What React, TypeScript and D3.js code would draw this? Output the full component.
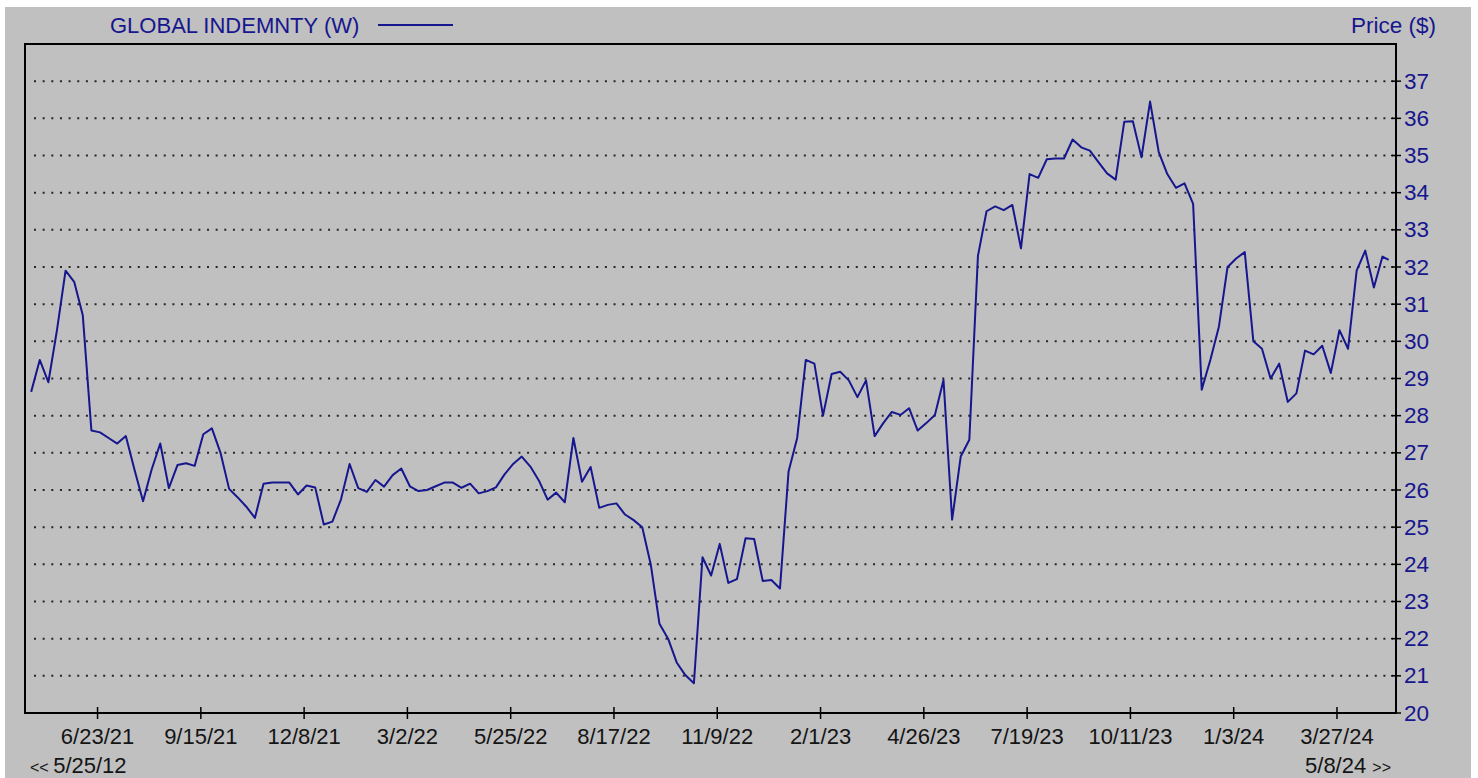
import React, { useEffect, useRef } from 'react';
import * as d3 from 'd3';

// weekly closes (Fridays) from firstWeek, last value is the latest day
const seriesName = 'GLOBAL INDEMNTY (W)';
const axisTitle = 'Price ($)';
const firstWeek = '4/30/21';
const lastDay = '5/8/24';
const historyStart = '5/25/12';

const prices = [
  28.64, 29.5, 28.9, 30.3, 31.9, 31.6, 30.7, 27.6, 27.55, 27.4,
  27.25, 27.45, 26.55, 25.7, 26.55, 27.25, 26.05, 26.67, 26.72, 26.65,
  27.5, 27.66, 27.0, 26.03, 25.8, 25.55, 25.25, 26.17, 26.2, 26.2,
  26.2, 25.88, 26.12, 26.07, 25.07, 25.15, 25.75, 26.7, 26.05, 25.95,
  26.27, 26.09, 26.4, 26.58, 26.1, 25.97, 26.0, 26.1, 26.2, 26.2,
  26.06, 26.17, 25.91, 25.97, 26.07, 26.42, 26.7, 26.9, 26.63, 26.25,
  25.74, 25.93, 25.67, 27.4, 26.22, 26.62, 25.52, 25.6, 25.64, 25.34,
  25.19, 25.0, 23.98, 22.4, 22.0, 21.36, 21.02, 20.8, 24.19, 23.7,
  24.55, 23.5, 23.6, 24.7, 24.68, 23.55, 23.58, 23.35, 26.5, 27.4,
  29.5, 29.4, 28.0, 29.12, 29.18, 28.95, 28.5, 28.95, 27.45, 27.8,
  28.1, 28.02, 28.2, 27.6, 27.8, 28.02, 28.96, 25.2, 26.9, 27.35,
  32.3, 33.5, 33.63, 33.53, 33.67, 32.5, 34.5, 34.4, 34.9, 34.92,
  34.92, 35.43, 35.22, 35.13, 34.82, 34.52, 34.35, 35.91, 35.92, 34.95,
  36.45, 35.1, 34.5, 34.13, 34.25, 33.7, 28.7, 29.5, 30.4, 32.0,
  32.23, 32.4, 30.0, 29.8, 29.0, 29.4, 28.37, 28.6, 29.75, 29.65,
  29.88, 29.15, 30.3, 29.8, 31.9, 32.44, 31.45, 32.28, 32.19,
];

const dateTicks = [
  '6/23/21', '9/15/21', '12/8/21', '3/2/22', '5/25/22', '8/17/22', '11/9/22',
  '2/1/23', '4/26/23', '7/19/23', '10/11/23', '1/3/24', '3/27/24',
];

const priceTicks = [20, 21, 22, 23, 24, 25, 26, 27, 28, 29, 30, 31, 32, 33, 34, 35, 36, 37];

const W = 1478;
const H = 778;
const plot = { left: 25, top: 44, right: 1396, bottom: 713 };
const navy = '#16168e';
const font = '"Liberation Sans", Arial, sans-serif';

const parse = d3.timeParse('%m/%d/%y');
const fmt = d3.timeFormat('%-m/%-d/%y');

const App = () => {
  const svgRef = useRef<SVGSVGElement>(null);

  useEffect(() => {
    const svg = d3.select(svgRef.current).attr('width', W).attr('height', H);
    svg.selectAll('*').remove();

    const start = parse(firstWeek) as Date;
    const end = parse(lastDay) as Date;
    const data = prices.map((v, i) => ({
      date: i < prices.length - 1 ? d3.timeDay.offset(start, 7 * i) : end,
      value: v,
    }));

    // plot spans a few days either side of the series
    const x = d3.scaleTime()
      .domain([d3.timeDay.offset(start, -5), d3.timeDay.offset(end, 6)])
      .range([plot.left, plot.right]);

    const y = d3.scaleLinear()
      .domain([20, 38])
      .range([plot.bottom, plot.top]);

    svg.append('rect').attr('width', W).attr('height', H).attr('fill', '#ffffff');
    svg.append('rect')
      .attr('x', 5).attr('y', 7)
      .attr('width', 1466).attr('height', H - 7)
      .attr('fill', '#c0c0c0');

    // dotted grid
    svg.append('g')
      .selectAll('line')
      .data(priceTicks.filter(d => d > 20))
      .enter().append('line')
      .attr('x1', plot.left + 9)
      .attr('x2', plot.right - 3)
      .attr('y1', d => y(d))
      .attr('y2', d => y(d))
      .attr('stroke', '#262626')
      .attr('stroke-width', 2)
      .attr('stroke-dasharray', '2 6.65');

    // frame
    svg.append('rect')
      .attr('x', plot.left).attr('y', plot.top)
      .attr('width', plot.right - plot.left)
      .attr('height', plot.bottom - plot.top)
      .attr('fill', 'none')
      .attr('stroke', '#000')
      .attr('stroke-width', 2);

    // right axis
    const yAxis = svg.append('g');
    yAxis.selectAll('line')
      .data(priceTicks)
      .enter().append('line')
      .attr('x1', plot.right - 5).attr('x2', plot.right + 5)
      .attr('y1', d => y(d)).attr('y2', d => y(d))
      .attr('stroke', '#000').attr('stroke-width', 1.5);
    yAxis.selectAll('text')
      .data(priceTicks)
      .enter().append('text')
      .attr('x', plot.right + 8)
      .attr('y', d => y(d) + 7.5)
      .attr('fill', navy)
      .attr('font-family', font)
      .attr('font-size', 22.5)
      .text(d => d);

    // bottom axis
    const tickDates = dateTicks.map(d => parse(d) as Date);
    const xAxis = svg.append('g');
    xAxis.selectAll('line')
      .data(tickDates)
      .enter().append('line')
      .attr('x1', d => x(d)).attr('x2', d => x(d))
      .attr('y1', plot.bottom - 6).attr('y2', plot.bottom + 6)
      .attr('stroke', '#000').attr('stroke-width', 1.5);
    xAxis.selectAll('text')
      .data(tickDates)
      .enter().append('text')
      .attr('x', d => x(d))
      .attr('y', 744)
      .attr('text-anchor', 'middle')
      .attr('fill', '#141414')
      .attr('font-family', font)
      .attr('font-size', 22)
      .text(d => fmt(d));

    const left = svg.append('text')
      .attr('x', 30).attr('y', 773)
      .attr('fill', '#141414')
      .attr('font-family', font)
      .attr('font-size', 22);
    left.append('tspan').attr('font-size', 16).text('<< ');
    left.append('tspan').text(historyStart);

    const right = svg.append('text')
      .attr('x', 1391).attr('y', 773)
      .attr('text-anchor', 'end')
      .attr('fill', '#141414')
      .attr('font-family', font)
      .attr('font-size', 22);
    right.append('tspan').text(fmt(end) + ' ');
    right.append('tspan').attr('font-size', 16).text('>>');

    // series
    const line = d3.line<{ date: Date; value: number }>()
      .x(d => x(d.date))
      .y(d => y(d.value));

    svg.append('path')
      .datum(data)
      .attr('fill', 'none')
      .attr('stroke', navy)
      .attr('stroke-width', 2)
      .attr('stroke-linejoin', 'round')
      .attr('d', line);

    // legend + titles
    svg.append('text')
      .attr('x', 110).attr('y', 33)
      .attr('fill', navy)
      .attr('font-family', font)
      .attr('font-size', 22)
      .text(seriesName);
    svg.append('line')
      .attr('x1', 378).attr('x2', 453)
      .attr('y1', 25).attr('y2', 25)
      .attr('stroke', navy).attr('stroke-width', 2);

    svg.append('text')
      .attr('x', 1436).attr('y', 33)
      .attr('text-anchor', 'end')
      .attr('fill', navy)
      .attr('font-family', font)
      .attr('font-size', 22.5)
      .text(axisTitle);
  }, []);

  return (
    <svg ref={svgRef} style={{ position: 'absolute', left: 0, top: 0, display: 'block' }} />
  );
};

export default App;
